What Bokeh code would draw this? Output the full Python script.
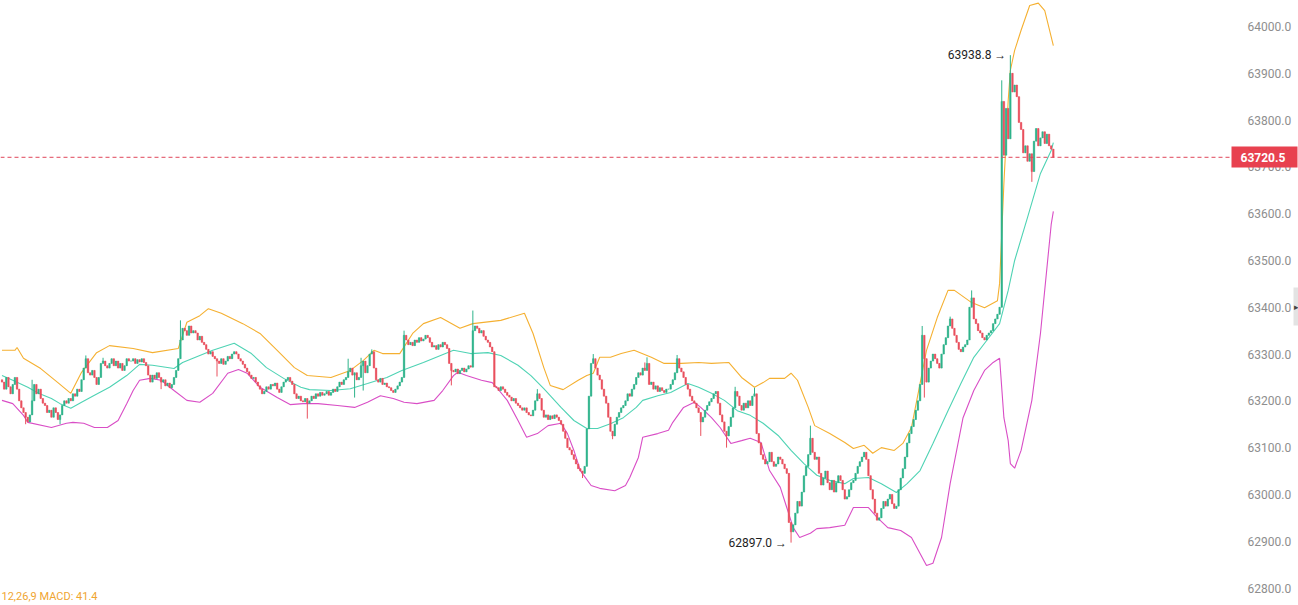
from bokeh.plotting import figure
from bokeh.models import (Range1d, FixedTicker, PrintfTickFormatter, Label, ColumnDataSource,
                          BoxAnnotation)
from bokeh.embed import file_html
from bokeh.resources import INLINE

# ---------------- data ----------------
FIRST_OPEN = 63245
CLOSES = [
    63240, 63225, 63250, 63230, 63215, 63235, 63250, 63225, 63200, 63185,
    63175, 63165, 63155, 63170, 63200, 63235, 63215, 63225, 63205, 63195,
    63190, 63175, 63180, 63165, 63185, 63175, 63160, 63170, 63190, 63200,
    63195, 63205, 63200, 63215, 63210, 63225, 63220, 63245, 63270, 63290,
    63260, 63255, 63265, 63250, 63235, 63250, 63280, 63285, 63275, 63270,
    63280, 63290, 63275, 63285, 63270, 63280, 63265, 63275, 63290, 63285,
    63285, 63290, 63280, 63288, 63283, 63290, 63282, 63275, 63255, 63240,
    63255, 63248, 63260, 63250, 63240, 63245, 63232, 63238, 63228, 63235,
    63250, 63265, 63290, 63330, 63355, 63350, 63340, 63360, 63345, 63350,
    63345, 63330, 63338, 63325, 63320, 63310, 63300, 63305, 63295, 63290,
    63285, 63280, 63290, 63278, 63285, 63295, 63290, 63300, 63305, 63300,
    63290, 63285, 63278, 63270, 63262, 63255, 63248, 63250, 63240, 63232,
    63225, 63215, 63220, 63230, 63225, 63235, 63232, 63238, 63225, 63218,
    63230, 63240, 63245, 63250, 63242, 63235, 63215, 63205, 63210, 63200,
    63198, 63205, 63195, 63200, 63210, 63205, 63215, 63210, 63218, 63212,
    63215, 63220, 63212, 63218, 63225, 63220, 63230, 63240, 63235, 63245,
    63250, 63262, 63270, 63255, 63260, 63245, 63250, 63275, 63285, 63260,
    63275, 63300, 63305, 63270, 63245, 63240, 63248, 63235, 63238, 63230,
    63228, 63222, 63218, 63225, 63232, 63240, 63250, 63340, 63330, 63320,
    63325, 63318, 63330, 63325, 63335, 63328, 63332, 63340, 63335, 63325,
    63315, 63318, 63310, 63320, 63315, 63325, 63320, 63312, 63280, 63265,
    63262, 63268, 63258, 63265, 63270, 63262, 63268, 63275, 63272, 63350,
    63360, 63355, 63345, 63350, 63338, 63330, 63325, 63315, 63305, 63230,
    63228, 63222, 63230, 63225, 63218, 63212, 63208, 63200, 63205, 63195,
    63190, 63185, 63180, 63185, 63175, 63170, 63168, 63180, 63200, 63215,
    63205, 63180, 63165, 63170, 63160, 63168, 63162, 63170, 63165, 63158,
    63150, 63135, 63120, 63100, 63095, 63085, 63075, 63065, 63055, 63050,
    63045, 63060, 63140, 63210, 63280, 63290, 63270, 63255, 63245, 63225,
    63210, 63195, 63165, 63135, 63125, 63150, 63165, 63175, 63185, 63190,
    63200, 63215, 63210, 63225, 63235, 63250, 63260, 63255, 63270, 63265,
    63280, 63235, 63240, 63225, 63232, 63220, 63228, 63222, 63218, 63225,
    63225, 63235, 63245, 63260, 63290, 63270, 63262, 63250, 63235, 63225,
    63210, 63200, 63195, 63185, 63175, 63155, 63165, 63180, 63190, 63198,
    63205, 63215, 63220, 63195, 63170, 63155, 63135, 63125, 63145, 63165,
    63185, 63220, 63210, 63190, 63180, 63195, 63185, 63200, 63190, 63210,
    63215, 63130, 63110, 63085, 63075, 63065, 63070, 63090, 63070, 63060,
    63065, 63080, 63075, 63065, 63055, 63045, 62940, 62920, 62935, 62960,
    62985, 62975, 63005, 63040, 63060, 63085, 63120, 63090, 63075, 63080,
    63045, 63020, 63035, 63050, 63025, 63010, 63030, 63005, 63025, 63040,
    63030, 63010, 62990, 62995, 63010, 63025, 63030, 63045, 63060, 63070,
    63080, 63090, 63075, 63040, 63010, 62990, 62960, 62945, 62950, 62970,
    62985, 62975, 62990, 63000, 62980, 62970, 62975, 63010, 63035, 63055,
    63080, 63110, 63130, 63145, 63160, 63180, 63200, 63235, 63340, 63290,
    63240, 63270, 63285, 63300, 63290, 63280, 63270, 63300, 63320, 63335,
    63360, 63375, 63355, 63340, 63325, 63310, 63305, 63315, 63320, 63330,
    63400, 63420, 63375, 63365, 63350, 63345, 63335, 63330, 63340, 63345,
    63350, 63365, 63375, 63385, 63400, 63840, 63725, 63825, 63760, 63900,
    63860, 63875, 63850, 63795, 63780, 63730, 63745, 63712, 63728, 63690,
    63755, 63782, 63745, 63762, 63775, 63750, 63770, 63745, 63738, 63720.5,
]
HIGH_WICKS = {14: 63245, 39: 63297, 47: 63292, 83: 63372, 161: 63290, 167: 63292,
              172: 63310, 187: 63350, 219: 63393, 249: 63225, 275: 63300, 299: 63282,
              300: 63293, 314: 63298, 341: 63230, 350: 63228, 376: 63147, 428: 63360,
              441: 63380, 451: 63436, 465: 63885, 469: 63938.8}
LOW_WICKS = {11: 63150, 27: 63150, 74: 63225, 100: 63252, 142: 63162, 164: 63207,
             168: 63222, 209: 63233, 270: 63035, 284: 63118, 325: 63125, 337: 63100,
             367: 62897, 429: 63207, 479: 63668}

UPPER_IDX = [0, 6, 7, 10, 18, 26, 32, 37, 44, 50, 61, 70, 82, 86, 92, 96, 102, 112, 120, 128,
             136, 142, 153, 162, 168, 173, 177, 185, 191, 196, 204, 213, 219, 232, 243, 247,
             252, 255, 261, 268, 272, 275, 278, 283, 288, 294, 302, 308, 316, 324, 330, 338,
             344, 350, 354, 357, 364, 367, 370, 375, 378, 385, 392, 396, 401, 405, 409, 415,
             419, 423, 427, 430, 435, 440, 443, 451, 457, 463, 464, 466, 468, 469, 471, 474,
             478, 482, 485, 489]
UPPER = [63308, 63308, 63314, 63291, 63269, 63239, 63216, 63261, 63303, 63318, 63312, 63303,
         63312, 63368, 63382, 63397, 63387, 63365, 63344, 63308, 63271, 63254, 63250, 63265,
         63286, 63308, 63301, 63301, 63344, 63365, 63378, 63355, 63365, 63372, 63387, 63344,
         63271, 63233, 63224, 63244, 63254, 63259, 63293, 63293, 63301, 63308, 63293, 63280,
         63280, 63282, 63280, 63282, 63250, 63229, 63239, 63248, 63248, 63259, 63244, 63186,
         63147, 63130, 63111, 63098, 63105, 63088, 63100, 63094, 63109, 63143, 63237, 63308,
         63378, 63436, 63436, 63410, 63399, 63414, 63451, 63665, 63842, 63906, 63949, 63992,
         64045, 64050, 64034, 63959]

MID_IDX = [0, 5, 12, 17, 23, 27, 32, 37, 43, 50, 58, 64, 70, 80, 84, 92, 98, 108, 116, 123,
           131, 139, 143, 153, 162, 170, 179, 186, 196, 204, 210, 218, 226, 232, 240, 246,
           252, 260, 266, 272, 277, 283, 289, 295, 298, 305, 311, 319, 324, 330, 336, 342,
           348, 354, 361, 367, 373, 379, 385, 392, 396, 403, 409, 416, 421, 427, 433, 440,
           446, 452, 458, 464, 468, 471, 477, 483, 488, 489]
MID = [63254, 63244, 63229, 63216, 63205, 63194, 63184, 63197, 63212, 63229, 63254, 63278,
       63276, 63269, 63282, 63297, 63308, 63323, 63301, 63271, 63248, 63229, 63224, 63222,
       63226, 63237, 63250, 63265, 63282, 63297, 63308, 63301, 63303, 63297, 63276, 63254,
       63226, 63186, 63158, 63141, 63141, 63151, 63164, 63186, 63201, 63211, 63218, 63237,
       63229, 63216, 63201, 63179, 63169, 63152, 63126, 63094, 63066, 63041, 63030, 63023,
       63034, 63036, 63023, 63004, 63023, 63051, 63109, 63179, 63237, 63293, 63329, 63365,
       63436, 63500, 63592, 63686, 63735, 63752]

LOWER_IDX = [0, 5, 10, 12, 23, 30, 33, 38, 43, 49, 54, 58, 61, 64, 69, 74, 80, 86, 92, 98,
             105, 110, 114, 120, 128, 134, 140, 147, 156, 164, 170, 176, 182, 187, 193, 201,
             205, 210, 212, 216, 223, 228, 230, 235, 240, 244, 249, 254, 260, 263, 266, 269,
             274, 278, 285, 290, 292, 296, 298, 305, 310, 312, 317, 322, 325, 330, 334, 339,
             344, 348, 353, 357, 362, 365, 368, 371, 376, 379, 385, 392, 396, 403, 407, 412,
             418, 423, 425, 430, 433, 437, 441, 447, 452, 457, 461, 464, 466, 468, 469, 471,
             474, 479, 483, 488, 489]
LOWER = [63201, 63194, 63169, 63154, 63143, 63152, 63154, 63152, 63143, 63143, 63158, 63194,
         63222, 63244, 63248, 63244, 63222, 63201, 63197, 63216, 63259, 63267, 63259, 63229,
         63207, 63192, 63194, 63194, 63190, 63186, 63197, 63211, 63205, 63197, 63194, 63201,
         63222, 63254, 63261, 63254, 63244, 63239, 63229, 63201, 63158, 63122, 63130, 63147,
         63152, 63130, 63094, 63051, 63019, 63013, 63008, 63019, 63036, 63079, 63122, 63130,
         63137, 63154, 63186, 63197, 63186, 63164, 63143, 63109, 63115, 63120, 63111, 63051,
         63015, 62972, 62929, 62908, 62917, 62927, 62929, 62934, 62972, 62972, 62951, 62929,
         62923, 62908, 62891, 62848, 62853, 62908, 63023, 63164, 63222, 63265, 63282, 63291,
         63164, 63115, 63066, 63056, 63094, 63201, 63344, 63577, 63605]

LAST_PRICE = 63720.5
PRICE_TICKS = [62800, 62900, 63000, 63100, 63200, 63300, 63400, 63500, 63600, 63700, 63800, 63900, 64000]
MARKS = [("63938.8 \u2192", 469, 63938.8), ("62897.0 \u2192", 367, 62897.0)]
SUB_LEGEND = "12,26,9  MACD: 41.4"

# ---------------- layout constants (pixel <-> data helpers) ----------------
W, H = 1298, 605
STEP = 2.15          # px per candle
X0 = 1.5             # px of first candle
PLOT_RIGHT = 1230    # px where the price area ends
Y_TOP, Y_BOT = 64055.6, 62762.6


def xd(px):
    return (px - X0) / STEP


def yd(py):
    return Y_TOP - (Y_TOP - Y_BOT) * py / H


# ---------------- build ----------------
UP, DOWN = "#2fb38b", "#e9505e"
idx = list(range(len(CLOSES)))
opens = [FIRST_OPEN] + CLOSES[:-1]
highs = [max(o, c) for o, c in zip(opens, CLOSES)]
lows = [min(o, c) for o, c in zip(opens, CLOSES)]
for k, v in HIGH_WICKS.items():
    highs[k] = max(highs[k], v)
for k, v in LOW_WICKS.items():
    lows[k] = min(lows[k], v)
colors = [UP if c >= o else DOWN for o, c in zip(opens, CLOSES)]
src = ColumnDataSource(dict(x=idx, h=highs, l=lows, col=colors,
                            top=[max(o, c) for o, c in zip(opens, CLOSES)],
                            bot=[min(o, c) for o, c in zip(opens, CLOSES)]))

p = figure(frame_width=W, frame_height=H, min_border=0,
           x_range=Range1d(xd(0), xd(W)), y_range=Range1d(Y_BOT, Y_TOP),
           output_backend="svg", toolbar_location=None,
           x_axis_location=None, y_axis_location="right")
p.outline_line_color = None
p.grid.visible = False
p.background_fill_color = "white"
p.border_fill_color = "white"

ax = p.yaxis[0]
ax.fixed_location = xd(PLOT_RIGHT)
ax.ticker = FixedTicker(ticks=PRICE_TICKS)
ax.formatter = PrintfTickFormatter(format="%.1f")
ax.axis_line_color = None
ax.major_tick_line_color = None
ax.minor_tick_line_color = None
ax.major_label_text_color = "#8e8e8e"
ax.major_label_text_font = "Roboto"
ax.major_label_text_font_size = "12px"
ax.major_label_standoff = 11

p.line(UPPER_IDX, UPPER, color="#f5b031", line_width=1.1)
p.line(MID_IDX, MID, color="#4fd3b4", line_width=1.1)
p.line(LOWER_IDX, LOWER, color="#d94ec6", line_width=1.1)

p.segment(x0="x", y0="h", x1="x", y1="l", color="col", line_width=1, source=src)
p.vbar(x="x", width=0.7, top="top", bottom="bot", fill_color="col", line_color="col",
       line_width=0.5, source=src)

# last-price dashed line across the price area
p.segment(x0=[xd(0)], y0=[LAST_PRICE], x1=[xd(PLOT_RIGHT)], y1=[LAST_PRICE],
          line_color="#e0455a", line_dash="4 3", line_width=1)

for txt, i, v in MARKS:
    p.add_layout(Label(x=i, y=v, text=txt, x_offset=-4, text_align="right",
                       text_baseline="middle", text_font="Roboto", text_font_size="12px",
                       text_color="#1e1e1e"))

# last-price tag on the axis
p.add_layout(BoxAnnotation(left=xd(PLOT_RIGHT + 1), right=xd(W - 1), top=yd(146), bottom=yd(167),
                           fill_color="#e8414f", fill_alpha=1.0, line_color=None))
p.add_layout(Label(x=xd(1240), y=LAST_PRICE, text="%.1f" % LAST_PRICE, text_align="left",
                   text_baseline="middle", text_color="white", text_font="Roboto",
                   text_font_style="bold", text_font_size="12px"))

# small scroll tab at the right edge
p.add_layout(BoxAnnotation(left=xd(W - 5), right=xd(W), top=yd(287), bottom=yd(325),
                           fill_color="#e3e3e3", fill_alpha=1.0, line_color=None))
p.add_layout(Label(x=xd(W - 5), y=yd(306), text="\u25b8", text_align="left",
                   text_baseline="middle", text_color="#444444", text_font_size="9px"))

# legend of the sub-chart below (kept fully inside the picture)
p.add_layout(Label(x=xd(1), y=yd(596), text=SUB_LEGEND, text_align="left",
                   text_baseline="alphabetic", text_color="#f0a531", text_font="Roboto",
                   text_font_size="11px"))

open("out.html", "w").write(file_html(p, INLINE))
